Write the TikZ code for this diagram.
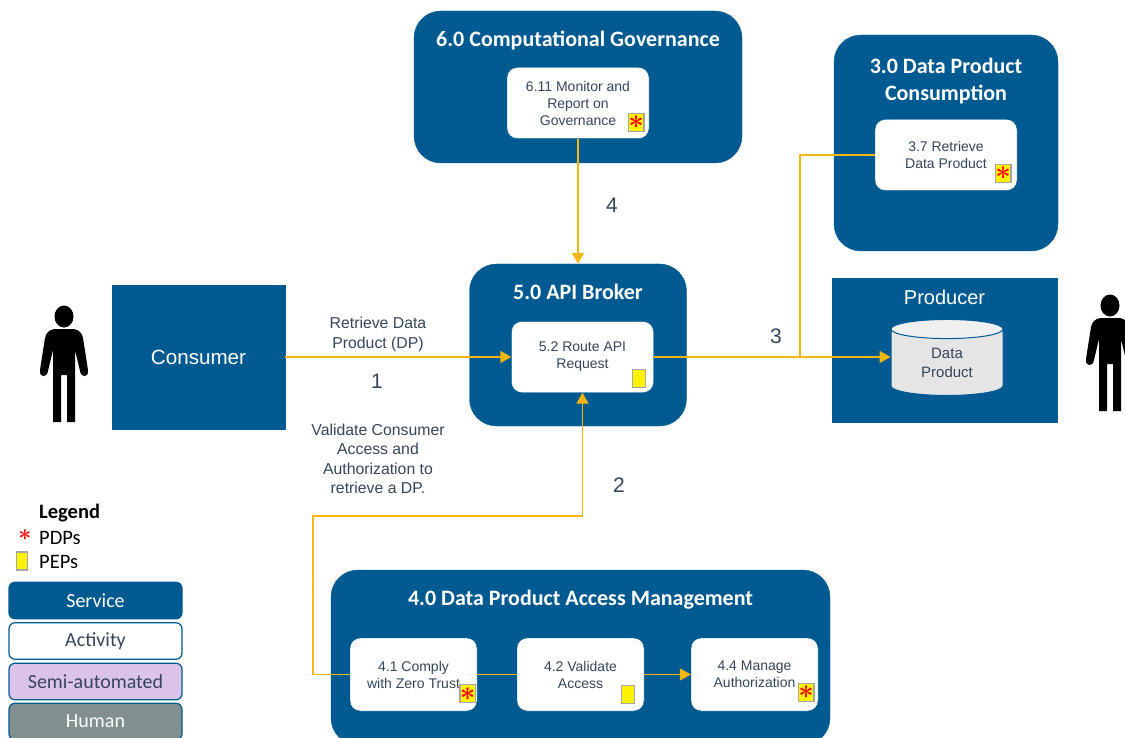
\documentclass[tikz,border=0pt]{standalone}
\usepackage{fontspec}
\setmainfont{Liberation Sans}
\newfontfamily\titlefont{Carlito}
\usetikzlibrary{positioning, arrows.meta, shapes.geometric}
\definecolor{svcblue}{HTML}{005A92}
\definecolor{flowgold}{HTML}{F5B70F}
\definecolor{inkdark}{HTML}{36465A}
\definecolor{semipurple}{HTML}{DCC3EA}
\definecolor{humangray}{HTML}{828F8F}
\newcommand{\pdpstar}{\raisebox{-0.6pt}{\scalebox{2.7}{\textcolor{red}{\boldmath$\ast$}}}}

\begin{document}
\begin{tikzpicture}[x=1pt, y=1pt, node distance=20pt, on grid,
    >={Triangle[length=11pt,width=12pt]},
    service/.style={draw=svcblue, fill=svcblue, rounded corners=27pt},
    actor/.style={draw=svcblue, fill=svcblue, text=white, font=\fontsize{20.6}{24}\selectfont},
    activity/.style={draw=svcblue, fill=white, rounded corners=10pt, text=inkdark, align=center, minimum width=142pt, minimum height=71pt, inner sep=0pt, font=\fontsize{14}{17}\selectfont},
    svctitle/.style={text=white, align=center, inner sep=0pt, font=\titlefont\bfseries\fontsize{22}{27}\selectfont},
    pepbox/.style={draw=black!35, line width=1.3pt, fill=yellow, inner sep=0pt, minimum width=13pt, minimum height=18pt},
    note/.style={text=inkdark, align=center, inner sep=0pt, font=\fontsize{15.8}{19.3}\selectfont},
    stepnum/.style={text=inkdark, inner sep=0pt, font=\fontsize{21}{24}\selectfont},
    flow/.style={draw=flowgold, line width=1.6pt},
    legendbox/.style={draw=svcblue, line width=1.2pt, rounded corners=6pt, minimum width=173pt, minimum height=36.5pt, inner sep=0pt, font=\titlefont\fontsize{20}{22}\selectfont},
    legendtext/.style={anchor=west, inner sep=0pt, text=black, font=\titlefont\fontsize{20.5}{22}\selectfont},
    pics/person/.style={code={
      \fill[black] (0,-10.5) ellipse (9.5 and 11);
      \fill[black] (-10,-23) .. controls (-15,-24) and (-18,-27) .. (-19,-32)
        -- (-24,-64) .. controls (-25,-72) and (-17,-72) .. (-16,-65)
        -- (-11,-44) -- (-11,-116) -- (-3,-116) -- (-3,-69) -- (3,-69) -- (3,-116) -- (11,-116)
        -- (11,-44) -- (16,-65) .. controls (17,-72) and (25,-72) .. (24,-64)
        -- (19,-32) .. controls (18,-27) and (15,-24) .. (10,-23) -- cycle;
    }}]
   \clip (0,0) rectangle (1125,-738);

   % Service boxes
   \node[service, minimum width=217pt, minimum height=162pt] (api) at (578,-345) {};
   \node[service, minimum width=328pt, minimum height=152pt] (gov) [above=258pt of api] {};
   \node[service, minimum width=224pt, minimum height=216pt] (cons) at (946,-143) {};
   \node[service, minimum width=499pt, minimum height=175pt] (access) at (580.5,-657.5) {};

   % Consumer and producer
   \node[actor, minimum width=173pt, minimum height=144pt] (consumer) [below left=12pt and 379.5pt of api] {Consumer};
   \node[actor, minimum width=225pt, minimum height=144pt] (producer) at (944.5,-350) {};
   \node[text=white, inner sep=0pt, font=\fontsize{20}{24}\selectfont] (prodtitle) [above=53pt of producer] {Producer};
   \node[cylinder, shape border rotate=90, aspect=0.37, draw=svcblue, line width=1pt, cylinder uses custom fill,
      cylinder body fill=black!10, cylinder end fill=black!6, minimum width=112pt, minimum height=76pt, inner sep=0pt,
      text=inkdark, align=center, font=\fontsize{15}{19}\selectfont] (dp) [below right=12.5pt and 2.5pt of producer] {Data\\Product};

   % Titles
   \node[svctitle] (govtitle) [above=47pt of gov] {6.0 Computational Governance};
   \node[svctitle] (constitle) [above=62pt of cons] {3.0 Data Product\\Consumption};
   \node[svctitle] (apititle) [above=53pt of api] {5.0 API Broker};
   \node[svctitle] (accesstitle) [above=57.5pt of access] {4.0 Data Product Access Management};

   % Activities
   \node[activity] (monitor) [below=16pt of gov] {6.11 Monitor and\\Report on\\Governance};
   \node[activity] (retrieve) [below=12pt of cons] {3.7 Retrieve\\Data Product};
   \node[activity] (route) [below right=12pt and 4.5pt of api] {5.2 Route API\\Request};
   \node[activity, minimum width=127pt, minimum height=73pt] (comply) [below left=17pt and 167pt of access] {4.1 Comply\\with Zero Trust};
   \node[activity, minimum width=127pt, minimum height=73pt] (validate) [right=167pt of comply] {4.2 Validate\\Access};
   \node[activity, minimum width=127pt, minimum height=73pt] (authorize) [right=174pt of validate] {4.4 Manage\\Authorization};

   % PDP and PEP markers
   \node[pepbox] (m1) at ([shift={(-13,16.5)}]monitor.south east) {\pdpstar};
   \node[pepbox] (m2) at ([shift={(-14,17.5)}]retrieve.south east) {\pdpstar};
   \node[pepbox] (m3) at ([shift={(-15,14.5)}]route.south east) {};
   \node[pepbox] (m4) at ([shift={(-9.5,17.5)}]comply.south east) {\pdpstar};
   \node[pepbox] (m5) at ([shift={(-16.5,16.5)}]validate.south east) {};
   \node[pepbox] (m6) at ([shift={(-12,19)}]authorize.south east) {\pdpstar};

   % Bends
   \coordinate (bendl) at (313,-516);
   \coordinate (bendr) at (800,-357);

   % Transitions
   \draw[flow, ->] (consumer.east) -- (route.west);
   \draw[flow, ->] (comply.west) -| (bendl) -| (route.south);
   \draw[flow, ->] (route.east) -- (route.east -| dp.west);
   \draw[flow] (retrieve.west) -| (bendr);
   \draw[flow, ->] (monitor.south) -- (api.north);
   \draw[flow] (comply.east) -- (validate.west);
   \draw[flow, ->] (validate.east) -- (authorize.west);

   % Connector labels
   \node[note] (retrievenote) at (378,-334.5) {Retrieve Data\\Product (DP)};
   \node[stepnum] (one) at (377,-381) {1};
   \node[note] (validnote) at (378,-459) {Validate Consumer\\Access and\\Authorization to\\retrieve a DP.};
   \node[stepnum] (two) at (619,-485) {2};
   \node[stepnum] (three) at (776,-336) {3};
   \node[stepnum] (four) at (612,-205) {4};

   % People
   \pic (personl) at (64,-306) {person};
   \pic (personr) at (1110,-295) {person};

   % Legend
   \node[legendtext, font=\titlefont\bfseries\fontsize{20.5}{22}\selectfont] (legendhead) at (39,-513) {Legend};
   \node[legendtext] (pdptext) [below=25pt of legendhead.west, anchor=west] {PDPs};
   \node[legendtext] (peptext) [below=24pt of pdptext.west, anchor=west] {PEPs};
   \node[inner sep=0pt] (pdpmark) at (25,-535) {\scalebox{0.85}{\pdpstar}};
   \node[pepbox, minimum width=11pt] (pepmark) at (22,-561) {};
   \node[legendbox, fill=svcblue, text=white] (legservice) at (95.5,-600.5) {Service};
   \node[legendbox, fill=white, text=inkdark] (legactivity) [below=40.5pt of legservice] {Activity};
   \node[legendbox, fill=semipurple, text=inkdark] (legsemi) [below=40.5pt of legactivity] {Semi-automated};
   \node[legendbox, fill=humangray, text=white] (leghuman) [below=40pt of legsemi] {Human};
\end{tikzpicture}
\end{document}
